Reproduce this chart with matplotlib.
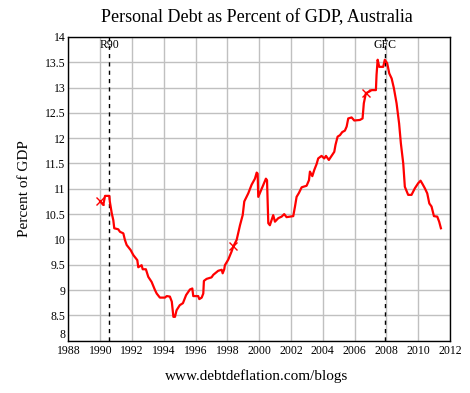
import matplotlib
matplotlib.use("Agg")
import matplotlib.pyplot as plt

plt.rcParams['font.family'] = ['Liberation Serif', 'DejaVu Serif']

# Personal debt / GDP, Australia
years = [1990.0, 1990.19, 1990.3, 1990.57, 1990.6, 1990.72, 1990.82, 1990.88, 1991.13, 1991.24,
         1991.45, 1991.55, 1991.66, 1991.91, 1992.08, 1992.33, 1992.39, 1992.6, 1992.67, 1992.87,
         1993.02, 1993.23, 1993.44, 1993.55, 1993.75, 1994.07, 1994.18, 1994.38, 1994.5, 1994.6,
         1994.7, 1994.8, 1995.0, 1995.2, 1995.4, 1995.64, 1995.79, 1995.85, 1996.16, 1996.23,
         1996.38, 1996.48, 1996.52, 1996.69, 1997.0, 1997.11, 1997.42, 1997.64, 1997.7, 1997.8,
         1997.84, 1998.05, 1998.26, 1998.37, 1998.58, 1998.79, 1998.96, 1999.06, 1999.31, 1999.52,
         1999.73, 1999.84, 1999.9, 1999.94, 2000.15, 2000.42, 2000.49, 2000.57, 2000.67, 2000.88,
         2000.99, 2001.2, 2001.41, 2001.57, 2001.72, 2002.14, 2002.25, 2002.35, 2002.5, 2002.67,
         2002.98, 2003.13, 2003.19, 2003.34, 2003.46, 2003.61, 2003.71, 2003.92, 2004.09, 2004.2,
         2004.38, 2004.55, 2004.72, 2004.8, 2004.93, 2005.08, 2005.22, 2005.39, 2005.5, 2005.6,
         2005.81, 2005.98, 2006.33, 2006.5, 2006.58, 2006.71, 2006.92, 2007.07, 2007.34, 2007.38,
         2007.45, 2007.55, 2007.8, 2007.9, 2008.05, 2008.18, 2008.33, 2008.47, 2008.64, 2008.8,
         2008.91, 2009.06, 2009.16, 2009.37, 2009.58, 2009.79, 2010.0, 2010.15, 2010.28, 2010.42,
         2010.57, 2010.7, 2010.84, 2010.99, 2011.2, 2011.32, 2011.43]
debt = [10.75, 10.68, 10.86, 10.86, 10.75, 10.52, 10.38, 10.22, 10.2, 10.15,
        10.12, 9.99, 9.89, 9.79, 9.69, 9.59, 9.45, 9.49, 9.41, 9.41,
        9.26, 9.16, 9.0, 8.93, 8.85, 8.85, 8.88, 8.87, 8.77, 8.47,
        8.47, 8.6, 8.7, 8.74, 8.9, 9.01, 9.03, 8.88, 8.88, 8.82,
        8.85, 8.93, 9.18, 9.22, 9.25, 9.3, 9.38, 9.4, 9.33, 9.41,
        9.49, 9.6, 9.76, 9.86, 9.99, 10.28, 10.48, 10.75, 10.91, 11.08,
        11.2, 11.32, 11.3, 10.84, 11.0, 11.2, 11.17, 10.32, 10.28, 10.48,
        10.35, 10.42, 10.45, 10.5, 10.44, 10.46, 10.65, 10.84, 10.92, 11.03,
        11.06, 11.17, 11.34, 11.25, 11.37, 11.49, 11.6, 11.65, 11.6, 11.65,
        11.57, 11.65, 11.73, 11.87, 12.03, 12.06, 12.12, 12.15, 12.23, 12.39,
        12.41, 12.35, 12.36, 12.39, 12.69, 12.89, 12.92, 12.95, 12.95, 13.25,
        13.55, 13.41, 13.41, 13.55, 13.48, 13.28, 13.18, 12.99, 12.69, 12.29,
        11.9, 11.5, 11.04, 10.88, 10.88, 11.01, 11.11, 11.16, 11.09, 11.01,
        10.91, 10.71, 10.65, 10.46, 10.45, 10.35, 10.22]

marker_years = [1990.0, 1998.37, 2006.71]
marker_vals = [10.75, 9.86, 12.89]

events = ["R90", "GFC"]
event_years = [1990.58, 2007.93]

fig = plt.figure(figsize=(4.7, 3.93), dpi=100)
ax = fig.add_axes([0.1457, 0.1333, 0.8117, 0.7726])

ax.plot(years, debt, color='red', linewidth=1.6, zorder=3)
ax.plot(marker_years, marker_vals, linestyle='none', marker='x', color='red',
        markersize=6, markeredgewidth=1, zorder=4)

for name, yr in zip(events, event_years):
    ax.axvline(yr, color='black', linestyle=(0, (3, 3)), linewidth=1, zorder=2)
    ax.text(yr, 13.96, name, ha='center', va='top', fontsize=8.5)

ax.set_xlim(1988, 2012)
ax.set_ylim(8, 14)
ax.set_xticks(range(1988, 2013, 2))
ax.set_yticks([8 + 0.5 * i for i in range(13)])
ax.set_yticklabels([('%g' % (8 + 0.5 * i)) for i in range(13)])
ax.tick_params(length=0, labelsize=8.5)
ax.tick_params(axis='x', pad=3)
ax.tick_params(axis='y', pad=2)
ax.get_yticklabels()[0].set_verticalalignment('bottom')
ax.grid(True, color='#c0c0c0', linewidth=1)
for s in ax.spines.values():
    s.set_linewidth(1)

ax.set_ylabel("Percent of GDP", fontsize=11, labelpad=10)
fig.text(0.547, 0.955, "Personal Debt as Percent of GDP, Australia",
         ha='center', va='center', fontsize=13)
fig.text(0.547, 0.043, "www.debtdeflation.com/blogs",
         ha='center', va='center', fontsize=11)

fig.savefig("out.png", dpi=100)
